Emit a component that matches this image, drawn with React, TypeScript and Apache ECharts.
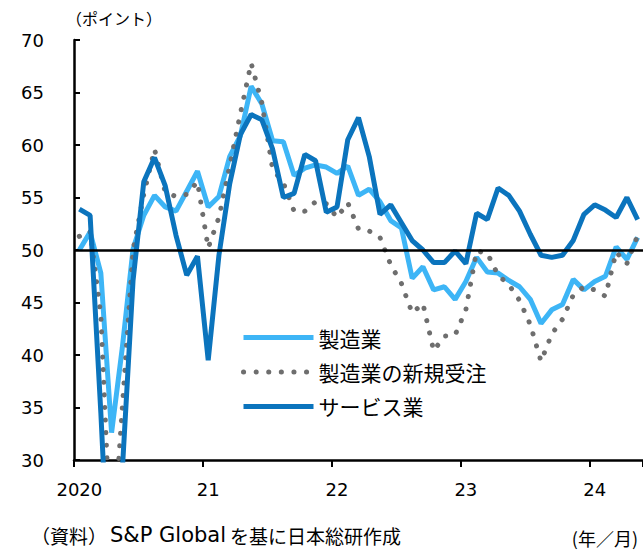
import { useEffect, useRef } from "react";
import * as echarts from "echarts";

// Year labels shown on the horizontal axis (each year starts a 12-month block)
const yearLabels = ["2020", "21", "22", "23", "24"];

// Monthly PMI readings, Jan 2020 - May 2024
const manufacturing = [
  50.0, 51.7, 47.8, 32.6, 40.7, 50.1, 53.3, 55.2, 54.1, 53.7, 55.6, 57.5,
  54.1, 55.1, 58.9, 60.9, 65.6, 63.9, 60.4, 60.3, 57.1, 57.8, 58.1, 57.9,
  57.3, 58.0, 55.2, 55.8, 54.6, 52.8, 52.1, 47.3, 48.4, 46.2, 46.5, 45.3,
  47.0, 49.3, 47.9, 47.8, 47.1, 46.5, 45.3, 43.0, 44.3, 44.8, 47.2, 46.2,
  47.0, 47.5, 50.3, 49.1, 51.2,
];

const newOrders = [
  51.3, 51.8, 43.8, 20.0, 35.0, 50.0, 55.3, 59.6, 55.5, 55.1, 55.3, 56.5,
  50.2, 53.1, 58.0, 63.0, 67.8, 64.0, 57.7, 56.4, 53.7, 53.7, 54.6, 54.4,
  53.1, 54.5, 52.0, 51.8, 51.2, 48.6, 46.8, 44.0, 44.9, 40.4, 41.8, 41.9,
  44.3, 49.9, 49.7, 47.6, 46.7, 45.2, 42.9, 39.4, 42.0, 43.4, 45.7, 46.5,
  46.2, 45.6, 49.8, 48.7, 51.4,
];

const services = [
  53.9, 53.3, 34.5, 13.4, 29.0, 47.1, 56.5, 58.8, 56.1, 51.4, 47.6, 49.4,
  39.5, 49.5, 56.3, 61.0, 62.9, 62.4, 59.6, 55.0, 55.4, 59.1, 58.5, 53.6,
  54.1, 60.5, 62.6, 58.9, 53.4, 54.3, 52.6, 50.9, 50.0, 48.8, 48.8, 49.9,
  48.7, 53.5, 52.9, 55.9, 55.2, 53.7, 51.5, 49.5, 49.3, 49.5, 50.9, 53.4,
  54.3, 53.8, 53.1, 55.0, 52.9,
];

const seriesNames = ["製造業", "製造業の新規受注", "サービス業"];

// "year/month" category keys
const categories: string[] = [];
yearLabels.forEach((y) => {
  for (let m = 1; m <= 12; m++) categories.push(`${y}/${m}`);
});
categories.length = manufacturing.length;

const JP = "'Noto Sans CJK JP', sans-serif";
const NUM = "'DejaVu Sans', sans-serif";

export default function App() {
  const ref = useRef<HTMLDivElement>(null);

  useEffect(() => {
    if (!ref.current) return;
    const chart = echarts.init(ref.current, null, { renderer: "svg" });
    const monthWidth = 130 / 12;

    chart.setOption({
      animation: false,
      backgroundColor: "#ffffff",
      grid: {
        left: 74,
        top: 40,
        width: monthWidth * categories.length,
        height: 420,
        containLabel: false,
      },
      legend: {
        orient: "vertical",
        left: 236,
        top: 322,
        itemWidth: 70,
        itemHeight: 14,
        itemGap: 13.5,
        data: seriesNames,
        selectedMode: false,
        textStyle: { fontSize: 21, fontFamily: JP, color: "#000" },
        itemStyle: { opacity: 0 },
        lineStyle: { width: 5 },
      },
      xAxis: {
        type: "category",
        data: categories,
        boundaryGap: true,
        axisLine: { show: true, lineStyle: { color: "#000", width: 2.5 } },
        axisTick: {
          show: true,
          interval: 11,
          length: 7,
          inside: false,
          lineStyle: { color: "#000", width: 2 },
        },
        axisLabel: {
          interval: 11,
          margin: 20,
          fontSize: 18,
          fontFamily: NUM,
          color: "#000",
          formatter: (v: string) => v.split("/")[0],
        },
        splitLine: { show: false },
      },
      yAxis: {
        type: "value",
        min: 30,
        max: 70,
        interval: 5,
        axisLine: { show: true, lineStyle: { color: "#000", width: 2.5 } },
        axisTick: {
          show: true,
          inside: true,
          length: 6,
          lineStyle: { color: "#000", width: 2 },
        },
        axisLabel: { margin: 30, fontSize: 18, fontFamily: NUM, color: "#000" },
        splitLine: { show: false },
      },
      series: [
        {
          name: seriesNames[0],
          type: "line",
          data: manufacturing,
          symbol: "none",
          z: 2,
          itemStyle: { color: "#3DB5F6" },
          lineStyle: { color: "#3DB5F6", width: 5 },
        },
        {
          name: seriesNames[1],
          type: "line",
          data: newOrders,
          symbol: "none",
          z: 3,
          itemStyle: { color: "#6E6E6E" },
          lineStyle: { color: "#6E6E6E", width: 5, type: [0.1, 12.5], cap: "round" },
        },
        {
          name: seriesNames[2],
          type: "line",
          data: services,
          symbol: "none",
          z: 4,
          itemStyle: { color: "#0B74BD" },
          lineStyle: { color: "#0B74BD", width: 5 },
          markLine: {
            silent: true,
            symbol: "none",
            z: 10,
            label: { show: false },
            lineStyle: { color: "#000", width: 2.5, type: "solid" },
            data: [{ yAxis: 50 }],
          },
        },
      ],
      graphic: [
        {
          type: "text",
          left: 66,
          top: 10,
          style: { text: "（ポイント）", font: `16px ${JP}`, fill: "#000" },
        },
        {
          type: "text",
          x: 31,
          y: 535,
          style: {
            text: "{jp|（資料）}{en|S&P Global}{jp|を基に日本総研作成}",
            fill: "#000",
            verticalAlign: "middle",
            rich: {
              jp: { fontSize: 19, fontFamily: JP, fill: "#000" },
              en: { fontSize: 21, fontFamily: NUM, fill: "#000", padding: [0, 4, 0, 3] },
            },
          },
        },
        {
          type: "text",
          x: 638,
          y: 538,
          style: {
            text: "(年／月)",
            font: `18px ${JP}`,
            fill: "#000",
            align: "right",
            verticalAlign: "middle",
          },
        },
      ],
    });

    return () => chart.dispose();
  }, []);

  return (
    <div
      ref={ref}
      style={{ position: "fixed", left: 0, top: 0, width: 643, height: 551 }}
    />
  );
}
